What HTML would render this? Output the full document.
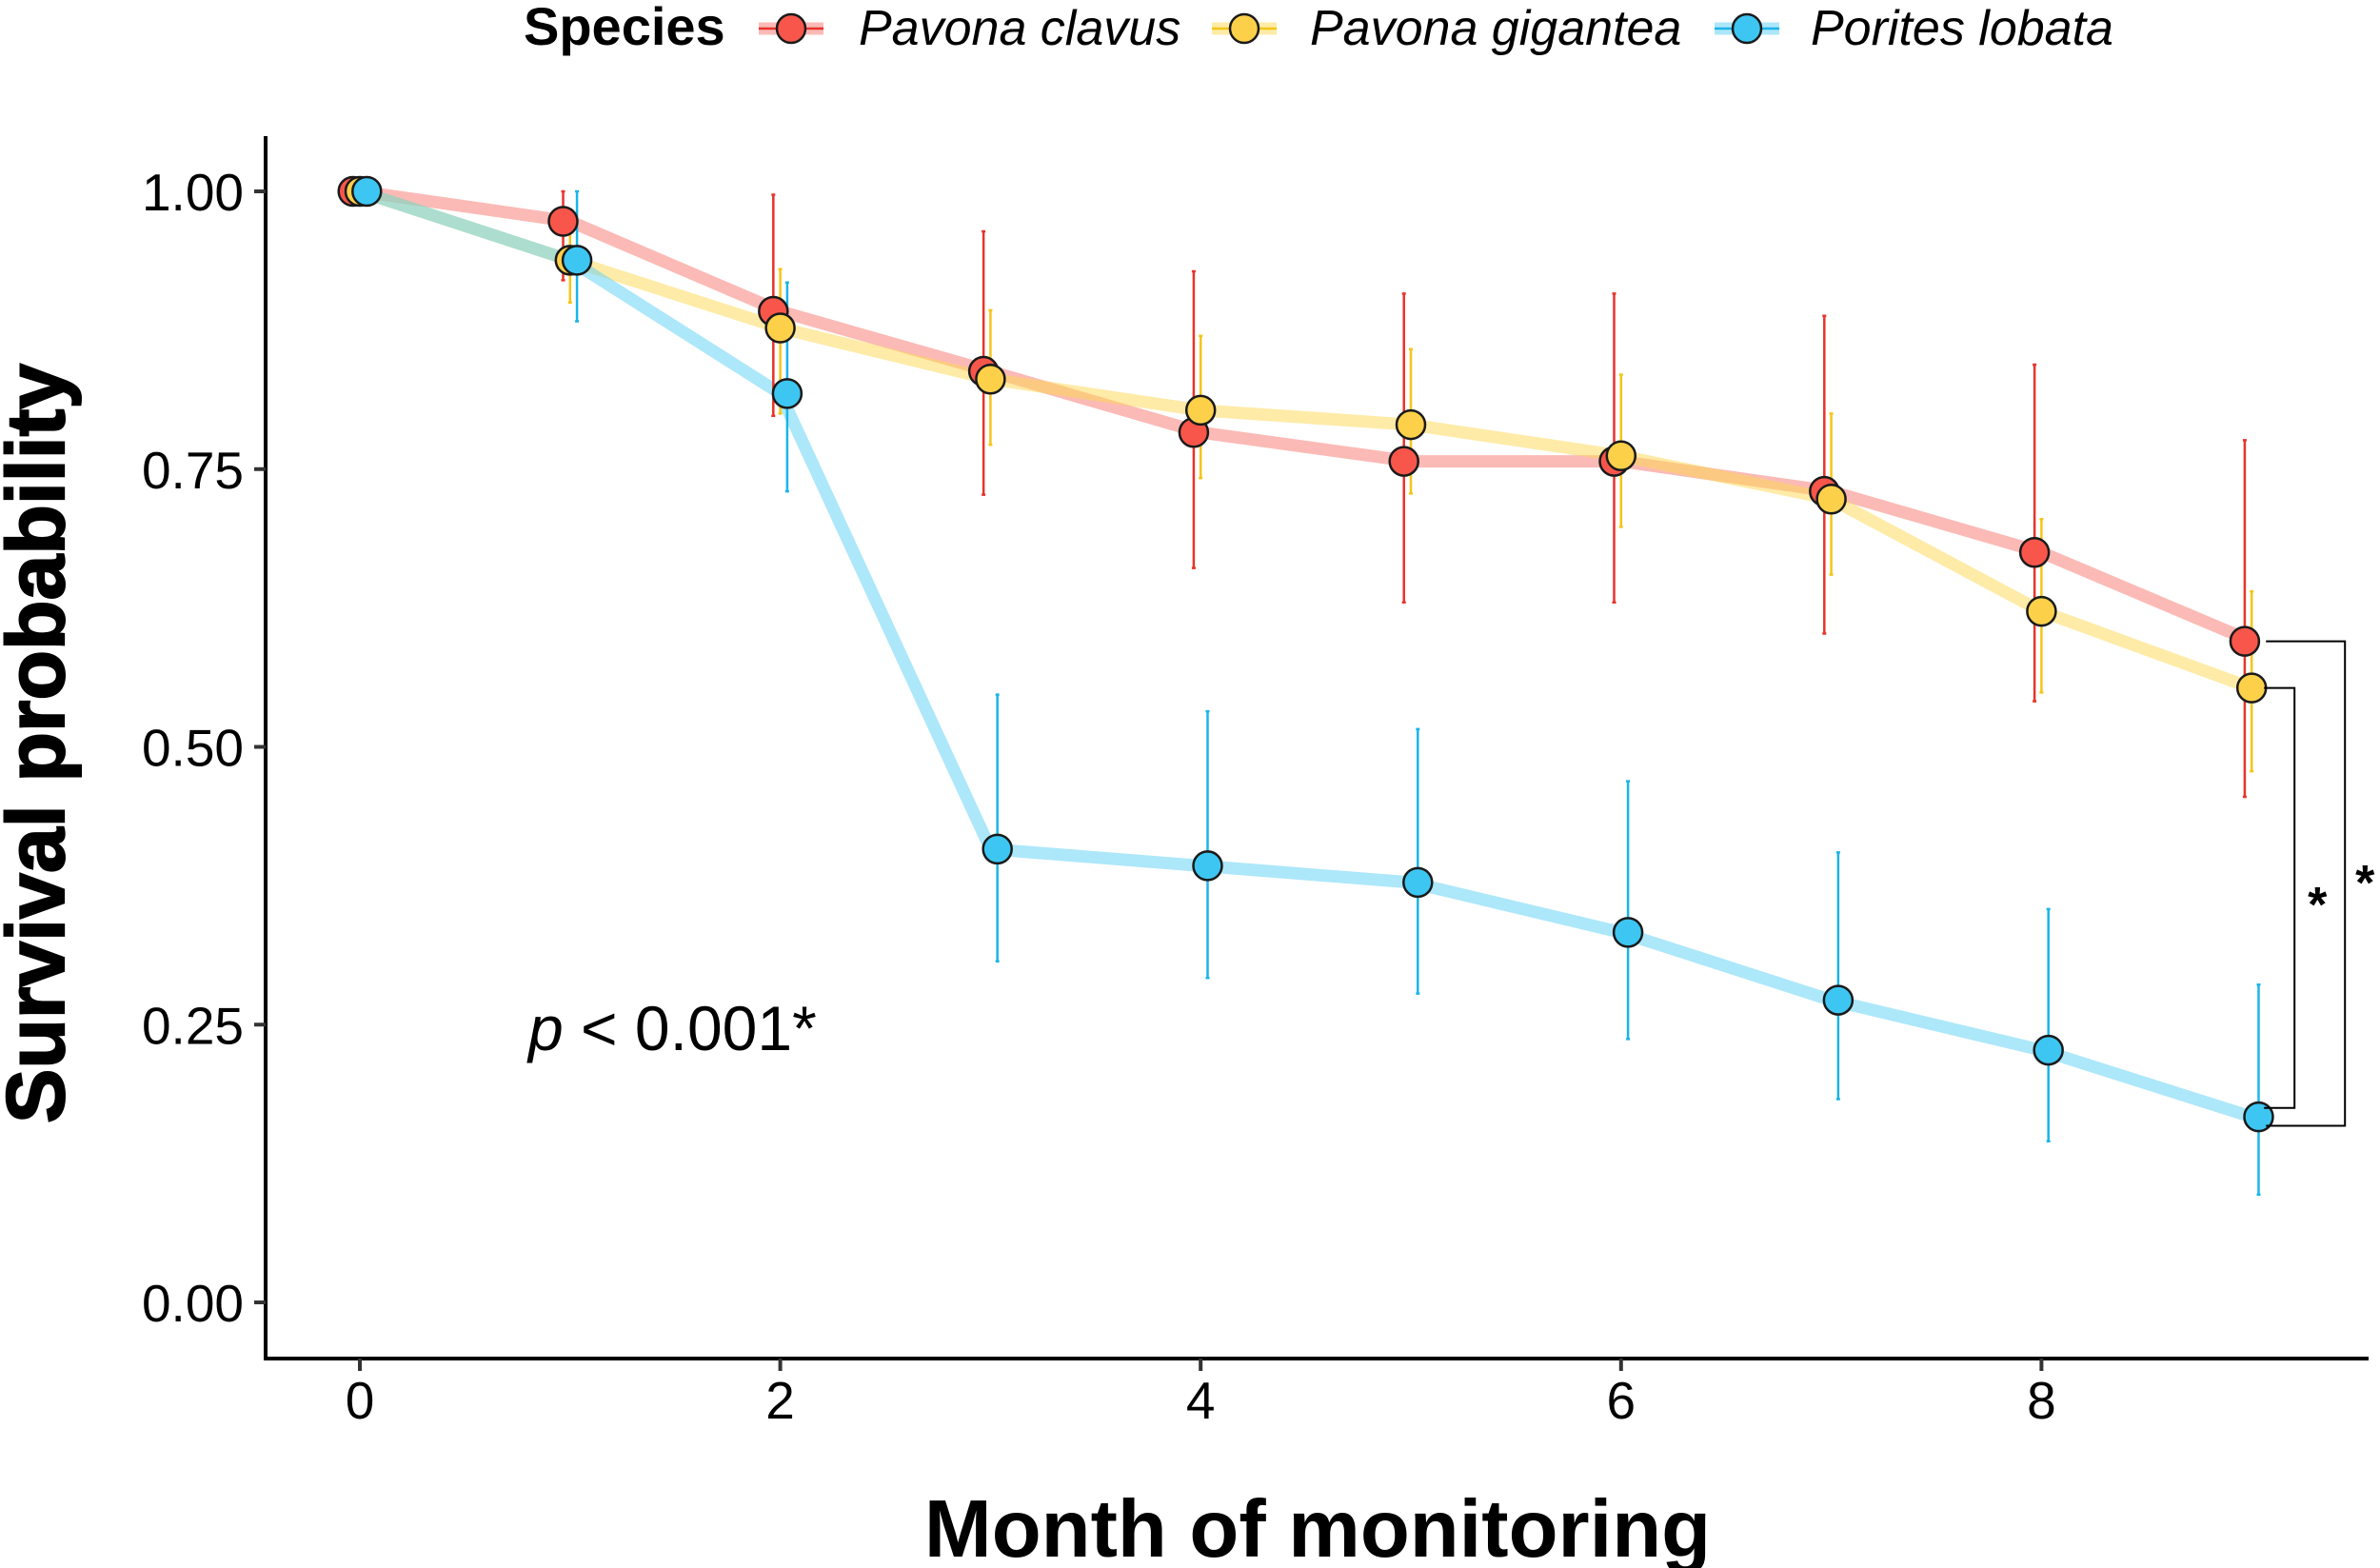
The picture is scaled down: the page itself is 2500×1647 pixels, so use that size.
<!DOCTYPE html>
<html><head><meta charset="utf-8"><style>
html,body{margin:0;padding:0;background:#fff}
svg{display:block}
text{font-family:"Liberation Sans",Arial,sans-serif}
</style></head><body>
<svg id="chart" width="2500" height="1647" viewBox="0 0 2500 1647" xmlns="http://www.w3.org/2000/svg">
<g id="legend"></g>
<g id="axes"></g>
<g id="plot"></g>
</svg>
<script>
const months = [0,1,2,3,4,5,6,7,8,9];
const speciesNames = ["Pavona clavus","Pavona gigantea","Porites lobata"];
const clavusVals = [1.0,0.973,0.892,0.838,0.783,0.757,0.757,0.730,0.675,0.595];
const clavusLo   = [1.0,0.92,0.798,0.727,0.661,0.630,0.630,0.602,0.541,0.455];
const clavusHi   = [1.0,1.0,0.997,0.964,0.928,0.908,0.908,0.888,0.844,0.776];
const gigVals = [1.0,0.938,0.877,0.831,0.803,0.790,0.762,0.723,0.622,0.553];
const gigLo   = [1.0,0.90,0.80,0.772,0.742,0.728,0.698,0.655,0.549,0.478];
const gigHi   = [1.0,0.97,0.93,0.893,0.87,0.858,0.835,0.80,0.705,0.64];
const porVals = [1.0,0.938,0.818,0.408,0.393,0.378,0.333,0.272,0.227,0.167];
const porLo   = [1.0,0.883,0.73,0.307,0.292,0.278,0.237,0.183,0.145,0.097];
const porHi   = [1.0,1.0,0.918,0.547,0.532,0.516,0.469,0.405,0.354,0.286];
const yTicks = [0,0.25,0.5,0.75,1.0];
const yTickLabels = ["0.00","0.25","0.50","0.75","1.00"];
const xTicks = [0,2,4,6,8];

const NS="http://www.w3.org/2000/svg";
const X0=378, XS=220.8, Y0=1368, YS=1167;
const x = m => X0 + m*XS;
const y = v => Y0 - v*YS;
function mk(tag, attrs, parent){const e=document.createElementNS(NS,tag);for(const k in attrs)e.setAttribute(k,attrs[k]);parent.appendChild(e);return e;}
const axes=document.getElementById('axes'), plot=document.getElementById('plot'), legend=document.getElementById('legend');

let yl=mk('line',{x1:279,y1:143,x2:279,y2:1428,stroke:'#000','stroke-width':4},axes);


let xl=mk('line',{x1:277,y1:1427,x2:2488,y2:1427,stroke:'#000','stroke-width':4},axes);


yTicks.forEach((v,i)=>{
  let t=mk('line',{x1:267,y1:y(v),x2:279,y2:y(v),stroke:'#333','stroke-width':4},axes);
  
  
  let l=mk('text',{x:256,y:y(v)+20,'text-anchor':'end','font-size':55,fill:'#000'},axes);
  l.textContent=yTickLabels[i];
  
  
});
xTicks.forEach(m=>{
  let t=mk('line',{x1:x(m),y1:1427,x2:x(m),y2:1440,stroke:'#333','stroke-width':4},axes);
  
  
  let l=mk('text',{x:x(m),y:1490,'text-anchor':'middle','font-size':55,fill:'#000'},axes);
  l.textContent=String(m);
  
  
});
let xt=mk('text',{x:1384,y:1635,'text-anchor':'middle','font-size':85,'font-weight':'bold',fill:'#000'},axes);
xt.textContent="Month of monitoring";


let ytl=mk('text',{x:0,y:0,'text-anchor':'middle','font-size':86,'font-weight':'bold',fill:'#000',stroke:'#000','stroke-width':2,transform:'translate(67,781) rotate(-90)'},axes);
ytl.textContent="Survival probability";



const series=[
 {name:'clavus',vals:clavusVals,lo:clavusLo,hi:clavusHi,line:'#F8766D',pt:'#F8564B',err:'#E8332A',dx:-0.033},
 {name:'gigantea',vals:gigVals,lo:gigLo,hi:gigHi,line:'#FDD84F',pt:'#FDD04A',err:'#F5C518',dx:0},
 {name:'lobata',vals:porVals,lo:porLo,hi:porHi,line:'#5BCFF5',pt:'#3DC6F2',err:'#1AB5E8',dx:0.033}
];
series.forEach(s=>{
  let d=s.vals.map((v,i)=>(i?'L':'M')+x(months[i])+','+y(v)).join(' ');
  let p=mk('path',{d:d,fill:'none',stroke:s.line,'stroke-width':13,'stroke-opacity':0.5,'stroke-linejoin':'round'},plot);
  
  
});
series.forEach(s=>{
  s.vals.forEach((v,i)=>{
    if(i===0) return;
    const xx=x(months[i]+s.dx);
    let e=mk('path',{d:`M${xx-2},${y(s.hi[i])}H${xx+2}M${xx},${y(s.hi[i])}V${y(s.lo[i])}M${xx-2},${y(s.lo[i])}H${xx+2}`,stroke:s.err,'stroke-width':2.5,fill:'none'},plot);
    
    
  });
});
series.forEach(s=>{
  s.vals.forEach((v,i)=>{
    let c=mk('circle',{cx:x(months[i]+s.dx),cy:y(v),r:15,fill:s.pt,stroke:'#1a1a1a','stroke-width':2.5},plot);
    
    
  });
});
const xe=x(9);
let b1=mk('path',{d:`M${xe+15},${y(clavusVals[9])}H${xe+98}V${y(porVals[9]-0.008)}H${xe+15}`,fill:'none',stroke:'#000','stroke-width':2},plot);


let b2=mk('path',{d:`M${xe+13},${y(gigVals[9])}H${xe+45}V${y(porVals[9]+0.008)}H${xe+13}`,fill:'none',stroke:'#000','stroke-width':2},plot);


let s1=mk('text',{x:xe+69,y:968,'text-anchor':'middle','font-size':52,'font-weight':'bold'},plot);
s1.textContent='*';


let s2=mk('text',{x:xe+119,y:945,'text-anchor':'middle','font-size':52,'font-weight':'bold'},plot);
s2.textContent='*';


let pv=mk('text',{x:555,y:1103,'font-size':66,fill:'#000'},plot);
pv.innerHTML='<tspan font-style="italic">p</tspan> &lt; 0.001*';



let lt=mk('text',{x:550,y:47,'font-size':56,'font-weight':'bold'},legend);
lt.textContent='Species';


const legX=[831,1307,1835], legTX=[902,1376,1902];
series.forEach((s,i)=>{
  const g=mk('g',{},legend);
  
  
  mk('line',{x1:legX[i]-34,y1:30,x2:legX[i]+34,y2:30,stroke:s.line,'stroke-width':13,'stroke-opacity':0.5},g);
  mk('line',{x1:legX[i]-34,y1:30,x2:legX[i]+34,y2:30,stroke:s.err,'stroke-width':2.5},g);
  mk('circle',{cx:legX[i],cy:30,r:15,fill:s.pt,stroke:'#1a1a1a','stroke-width':2.5},g);
  let t=mk('text',{x:legTX[i],y:47,'font-size':52,'font-style':'italic'},g);
  t.textContent=speciesNames[i];
});
</script>
</body></html>
